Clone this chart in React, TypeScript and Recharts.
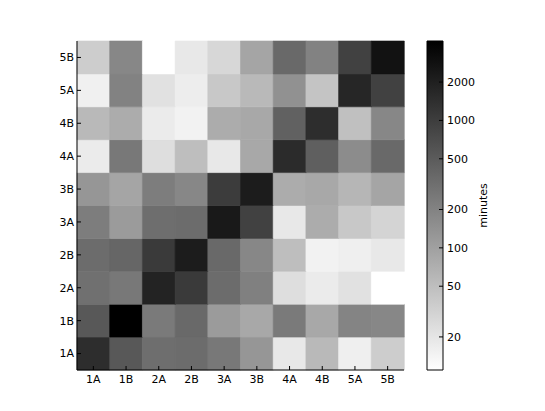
import { Bar, BarChart, Cell, ComposedChart, ReferenceArea, XAxis, YAxis } from 'recharts'

const LABELS = ['1A', '1B', '2A', '2B', '3A', '3B', '4A', '4B', '5A', '5B']

// minutes, one array per row (y label), one value per column (x label)
const ROW_1A = [1460, 540, 320, 340, 255, 127, 19, 56, 16, 35]
const ROW_1B = [540, 4200, 245, 360, 113, 83, 245, 83, 193, 180]
const ROW_2A = [307, 255, 1850, 1080, 337, 212, 24, 17.5, 22, 11]
const ROW_2B = [337, 388, 1080, 2170, 361, 180, 50, 15, 16, 19]
const ROW_3A = [227, 113, 322, 337, 2330, 920, 19, 76, 40, 30]
const ROW_3B = [127, 89, 227, 180, 1030, 2170, 76, 83, 60, 89]
const ROW_4A = [17.5, 255, 24, 50, 19, 83, 1530, 456, 160, 361]
const ROW_4B = [56, 76, 17.5, 15, 76, 83, 435, 1460, 48, 180]
const ROW_5A = [15.6, 202, 22, 16.7, 40, 56, 142, 44, 1720, 920]
const ROW_5B = [35, 180, 11, 19, 28, 89, 361, 202, 920, 2740]

const ROWS = [ROW_1A, ROW_1B, ROW_2A, ROW_2B, ROW_3A, ROW_3B, ROW_4A, ROW_4B, ROW_5A, ROW_5B]

const CBAR_TICKS = [20, 50, 100, 200, 500, 1000, 2000]

const FONT = '"DejaVu Sans", sans-serif'
const FS = 11

const ALL = ROWS.flat()
const VMIN = Math.min(...ALL)
const VMAX = Math.max(...ALL)

// gray_r on a log norm
function gray(v: number) {
  const t = (Math.log(v) - Math.log(VMIN)) / (Math.log(VMAX) - Math.log(VMIN))
  const g = Math.round(255 * (1 - t))
  return `rgb(${g},${g},${g})`
}

const columns = LABELS.map((label) => {
  const d: Record<string, string | number> = { label }
  ROWS.forEach((_, r) => {
    d[`r${r}`] = 1
  })
  return d
})

const ROW_TICKS = LABELS.map((_, i) => i + 0.5)

function BottomTick(props: any) {
  const { x, y, payload } = props
  return (
    <g>
      <line x1={x} x2={x} y1={y - 5} y2={y - 9} stroke="#000" />
      <text x={x} y={y} dy="0.71em" textAnchor="middle" fontFamily={FONT} fontSize={FS} fill="#000">
        {payload.value}
      </text>
    </g>
  )
}

function TopTick(props: any) {
  const { x, y } = props
  return <line x1={x} x2={x} y1={y} y2={y + 4} stroke="#000" />
}

function LeftTick(props: any) {
  const { x, y, payload } = props
  return (
    <g>
      <line x1={x + 3} x2={x + 7} y1={y} y2={y} stroke="#000" />
      <text x={x} y={y} dy="0.355em" textAnchor="end" fontFamily={FONT} fontSize={FS} fill="#000">
        {LABELS[Math.floor(payload.value)]}
      </text>
    </g>
  )
}

function RightTick(props: any) {
  const { x, y } = props
  return <line x1={x - 4} x2={x} y1={y} y2={y} stroke="#000" />
}

function CbarTick(props: any) {
  const { x, y, payload } = props
  return (
    <g>
      <line x1={x - 4} x2={x - 8} y1={y} y2={y} stroke="#000" />
      <text x={x} y={y} dy="0.355em" textAnchor="start" fontFamily={FONT} fontSize={FS} fill="#000">
        {payload.value}
      </text>
    </g>
  )
}

export default function App() {
  return (
    <div style={{ position: 'absolute', left: 0, top: 0, width: 545, height: 411, background: '#fff' }}>
      <div style={{ position: 'absolute', left: 0, top: 0 }}>
        <BarChart
          width={545}
          height={411}
          data={columns}
          margin={{ top: 41, right: 141, bottom: 11, left: 47 }}
          barCategoryGap={0}
          barGap={0}
        >
          <XAxis
            xAxisId="b"
            dataKey="label"
            height={30}
            interval={0}
            tickSize={0}
            tickMargin={5}
            tickLine={false}
            axisLine={{ stroke: '#000' }}
            tick={BottomTick}
          />
          <XAxis
            xAxisId="t"
            orientation="top"
            dataKey="label"
            height={0}
            interval={0}
            tickSize={0}
            tickMargin={0}
            tickLine={false}
            axisLine={{ stroke: '#000' }}
            tick={TopTick}
          />
          <YAxis
            yAxisId="l"
            type="number"
            domain={[0, 10]}
            ticks={ROW_TICKS}
            interval={0}
            width={30}
            tickSize={0}
            tickMargin={3}
            tickLine={false}
            axisLine={{ stroke: '#000' }}
            tick={LeftTick}
          />
          <YAxis
            yAxisId="r"
            orientation="right"
            type="number"
            domain={[0, 10]}
            ticks={ROW_TICKS}
            interval={0}
            width={0}
            tickSize={0}
            tickMargin={0}
            tickLine={false}
            axisLine={{ stroke: '#000' }}
            tick={RightTick}
          />
          {ROWS.map((row, r) => (
            <Bar
              key={r}
              dataKey={`r${r}`}
              stackId="m"
              xAxisId="b"
              yAxisId="l"
              isAnimationActive={false}
            >
              {row.map((v, c) => (
                <Cell key={c} fill={gray(v)} stroke={gray(v)} strokeWidth={0.6} />
              ))}
            </Bar>
          ))}
        </BarChart>
      </div>
      <div style={{ position: 'absolute', left: 420, top: 0 }}>
        <ComposedChart
          width={125}
          height={411}
          data={[{ x: 0 }, { x: 1 }]}
          margin={{ top: 41, right: 22, bottom: 41, left: 7 }}
        >
          <defs>
            <linearGradient id="cbarGrad" x1="0" y1="1" x2="0" y2="0">
              <stop offset="0%" stopColor="#fff" />
              <stop offset="100%" stopColor="#000" />
            </linearGradient>
          </defs>
          <XAxis dataKey="x" type="number" domain={[0, 1]} hide />
          <YAxis
            orientation="right"
            type="number"
            scale="log"
            domain={[VMIN, VMAX]}
            allowDataOverflow
            ticks={CBAR_TICKS}
            interval={0}
            width={80}
            tickSize={0}
            tickMargin={4}
            tickLine={false}
            axisLine={false}
            tick={CbarTick}
            label={{
              value: 'minutes',
              angle: -90,
              position: 'center',
              fill: '#000',
              fontFamily: FONT,
              fontSize: FS,
            }}
          />
          <ReferenceArea
            y1={VMIN}
            y2={VMAX}
            fill="url(#cbarGrad)"
            fillOpacity={1}
            stroke="#000"
            strokeWidth={1}
            ifOverflow="visible"
          />
        </ComposedChart>
      </div>
    </div>
  )
}
